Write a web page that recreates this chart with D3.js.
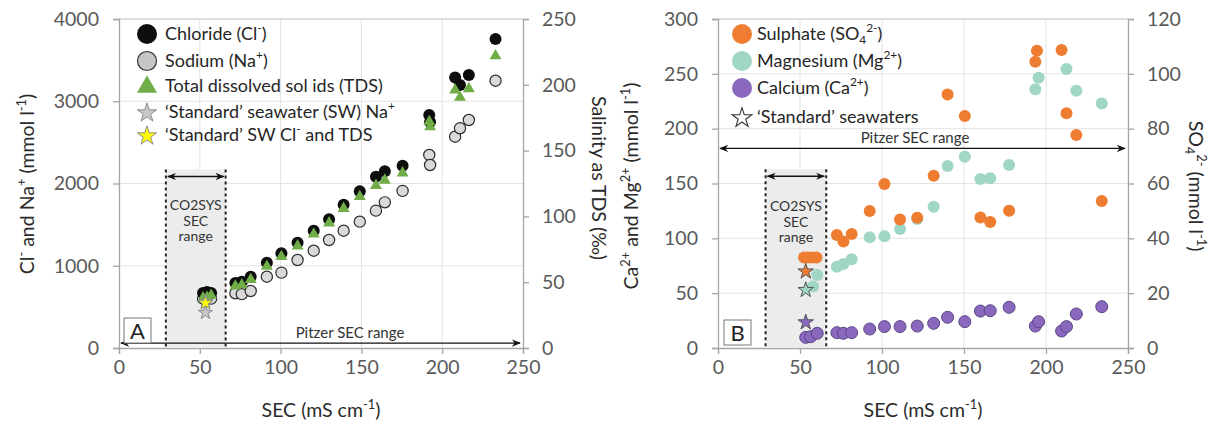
<!DOCTYPE html>
<html>
<head>
<meta charset="utf-8">
<script src="https://cdn.jsdelivr.net/npm/d3@7"></script>
<style>
  body { margin: 0; background: #fff; }
  svg text { font-family: Lato, "Open Sans", sans-serif; }
</style>
</head>
<body>
<div id="chart"></div>
<script>
// ---- panel A : Cl, Na (mmol l-1) and TDS (per mil) against SEC (mS cm-1)
const secA      = [52, 54.5, 57, 72, 76, 81.5, 91.5, 100.5, 110.5, 120.5, 130, 139, 149, 159, 164.5, 175.5, 192, 192.5, 208, 211, 216.5, 233]
const chloride  = [670, 680, 670, 790, 806, 867, 1037, 1151, 1281, 1426, 1564, 1743, 1905, 2083, 2148, 2217, 2833, 2748, 3290, 3197, 3319, 3757]
const sodium    = [600, 610, 600, 665, 655, 693, 867, 916, 1070, 1183, 1313, 1426, 1536, 1670, 1771, 1910, 2347, 2225, 2569, 2671, 2772, 3250]
const tds       = [38, 38.5, 40, 47, 48, 52, 62, 69.5, 77.5, 86.5, 95, 106, 115, 123.5, 127.5, 133, 172, 168, 196, 190.5, 197, 222]
// 'standard' seawater, SEC, Na, Cl (mmol l-1) and TDS (per mil)
const swSecA = 53.5, swNa = 430, swCl = 546, swTds = 35

// ---- panel B : Ca, Mg (mmol l-1, left) and SO4 (mmol l-1, right)
const secSO4    = [52.5, 55, 57.5, 60, 72.5, 76.5, 81.5, 92.5, 101.5, 111, 121.5, 131.5, 140, 150.5, 160, 166, 177.5, 193.5, 194.5, 209.5, 212.5, 218.5, 234]
const sulphate  = [33, 33, 33, 33, 41.2, 38.8, 41.6, 50, 59.8, 46.9, 47.5, 62.8, 92.5, 84.6, 47.6, 46, 50.1, 104.4, 108.4, 108.7, 85.6, 77.7, 53.6]
const secMg     = [58, 60.5, 72.5, 76.5, 81.5, 92.5, 101.5, 111, 121.5, 131.5, 140, 150.5, 160, 166, 177.5, 193.5, 195.5, 212.5, 218.5, 234]
const magnesium = [56, 66.6, 74.1, 76.6, 80.9, 100.9, 102, 108.5, 117.6, 128.9, 166, 174.4, 154, 154.7, 166.9, 236, 246.5, 254.4, 234.6, 223]
const secCa     = [53.5, 56.5, 60.5, 72.5, 76.5, 81.5, 92.5, 101.5, 111, 121.5, 131.5, 140, 150.5, 160, 166, 177.5, 193.5, 195.5, 209.5, 212.5, 218.5, 234]
const calcium   = [9.7, 10.3, 13.4, 14, 13.4, 14, 17.3, 19.5, 19.5, 20, 22.5, 28, 24, 33.7, 34, 37.1, 20, 24, 15.5, 19.5, 31, 37.7]
const swSecB = 53.5, swSO4 = 27.9, swMg = 52.9, swCa = 23.4

// ticks and ranges
const secTicks = [0, 50, 100, 150, 200, 250]
const clTicks  = [0, 1000, 2000, 3000, 4000]
const tdsTicks = [0, 50, 100, 150, 200, 250]
const caTicks  = [0, 50, 100, 150, 200, 250, 300]
const so4Ticks = [0, 20, 40, 60, 80, 100, 120]
const co2sysRange = [29, 66]
const co2sysTopA = 2170, co2sysTopB = 163
const pitzerRange = [0, 250]
const pitzerYA = 60, pitzerYB = 182

const W = 1214, H = 425
const svg = d3.select("#chart").append("svg").attr("width", W).attr("height", H)
svg.append("rect").attr("width", W).attr("height", H).attr("fill", "#fff")

const defs = svg.append("defs")
defs.append("marker").attr("id", "arrow").attr("viewBox", "0 0 10 10")
    .attr("refX", 9).attr("refY", 5).attr("markerWidth", 9).attr("markerHeight", 9)
    .attr("markerUnits", "userSpaceOnUse").attr("orient", "auto-start-reverse")
    .append("path").attr("d", "M0,1 L10,5 L0,9 L3,5 Z").attr("fill", "#111")

// text with sub/superscript parts: [[str], [str, "sup"], [str, "sub"]]
function rich(text, parts, fs) {
    let shift = 0
    parts.forEach(([s, k]) => {
        const target = k === "sup" ? -0.42 * fs : k === "sub" ? 0.22 * fs : 0
        text.append("tspan")
            .attr("dy", target - shift)
            .attr("font-size", k ? fs * 0.66 : fs)
            .text(s)
        shift = target
    })
}

const star = d3.symbol().type(d3.symbolStar)
const tri = d3.symbol().type(d3.symbolTriangle)

function styleAxis(g) {
    g.select(".domain").attr("stroke", "#a6a6a6").attr("stroke-width", 1.3)
    g.selectAll(".tick line").attr("stroke", "#a6a6a6").attr("stroke-width", 1.3)
    g.selectAll(".tick text").attr("fill", "#595959").attr("font-size", 19.5)
}

function frame(p, x, yl, yr, ylTicks, yrTicks) {
    const g = svg.append("g")
    // gridlines
    g.selectAll(".gy").data(ylTicks.slice(1)).join("line")
        .attr("x1", p.x0).attr("x2", p.x1).attr("y1", d => yl(d)).attr("y2", d => yl(d))
        .attr("stroke", d => d === ylTicks[ylTicks.length - 1] ? "#bdbdbd" : "#e3e3e3")
    g.selectAll(".gx").data(secTicks.slice(1, -1)).join("line")
        .attr("x1", d => x(d)).attr("x2", d => x(d)).attr("y1", p.y0).attr("y2", p.y1)
        .attr("stroke", "#e3e3e3")
    const fmt = d3.format("d")
    g.append("g").attr("transform", `translate(0,${p.y0})`)
        .call(d3.axisBottom(x).tickValues(secTicks).tickFormat(fmt).tickSize(6).tickPadding(6)).call(styleAxis)
    g.append("g").attr("transform", `translate(${p.x0},0)`)
        .call(d3.axisLeft(yl).tickValues(ylTicks).tickFormat(fmt).tickSize(6).tickPadding(14)).call(styleAxis)
    g.append("g").attr("transform", `translate(${p.x1},0)`)
        .call(d3.axisRight(yr).tickValues(yrTicks).tickFormat(fmt).tickSize(6).tickPadding(13)).call(styleAxis)
    return g
}

function co2sys(x, y, top, textY) {
    const g = svg.append("g")
    const x0 = x(co2sysRange[0]), x1 = x(co2sysRange[1])
    g.append("rect").attr("x", x0).attr("y", y(top)).attr("width", x1 - x0)
        .attr("height", y(0) - y(top)).attr("fill", "#ececec")
    co2sysRange.forEach(v => g.append("line")
        .attr("x1", x(v)).attr("x2", x(v)).attr("y1", y(top)).attr("y2", y(0))
        .attr("stroke", "#222").attr("stroke-width", 2).attr("stroke-dasharray", "3,3"))
    g.append("line").attr("x1", x0 + 2).attr("x2", x1 - 2)
        .attr("y1", y(top) + 7).attr("y2", y(top) + 7)
        .attr("stroke", "#111").attr("stroke-width", 1.3)
        .attr("marker-start", "url(#arrow)").attr("marker-end", "url(#arrow)")
    ;["CO2SYS", "SEC", "range"].forEach((t, i) => g.append("text")
        .attr("x", (x0 + x1) / 2).attr("y", textY + i * 15.5)
        .attr("text-anchor", "middle").attr("font-size", 14).attr("fill", "#333").text(t))
}

function pitzer(x, y, yv, labelX) {
    svg.append("line").attr("x1", x(pitzerRange[0]) + 2).attr("x2", x(pitzerRange[1]) - 3)
        .attr("y1", y(yv)).attr("y2", y(yv))
        .attr("stroke", "#111").attr("stroke-width", 1.2)
        .attr("marker-start", "url(#arrow)").attr("marker-end", "url(#arrow)")
    svg.append("text").attr("x", labelX).attr("y", y(yv) - 5)
        .attr("text-anchor", "middle").attr("font-size", 15).attr("fill", "#333")
        .text("Pitzer SEC range")
}

function panelLabel(x, y, t) {
    svg.append("rect").attr("x", x).attr("y", y).attr("width", 27).attr("height", 25)
        .attr("fill", "#fff").attr("stroke", "#777").attr("stroke-width", 1)
    svg.append("text").attr("x", x + 13.5).attr("y", y + 21).attr("text-anchor", "middle")
        .attr("font-size", 22).attr("fill", "#222").text(t)
}

function axisTitle(x, y, angle, parts, fs) {
    const t = svg.append("text").attr("transform", `translate(${x},${y}) rotate(${angle})`)
        .attr("text-anchor", "middle").attr("fill", "#2b2b2b")
    rich(t, parts, fs)
}

function legendRow(x, y, tx, draw, parts) {
    draw(x, y)
    const t = svg.append("text").attr("x", tx).attr("y", y + 6).attr("fill", "#262626")
    rich(t, parts, 18)
}

// ================= panel A =================
const pA = { x0: 119, x1: 523, y0: 348, y1: 19 }
const xA = d3.scaleLinear().domain([0, 250]).range([pA.x0, pA.x1])
const yA = d3.scaleLinear().domain([0, 4000]).range([pA.y0, pA.y1])
const yTds = d3.scaleLinear().domain([0, 250]).range([pA.y0, pA.y1])

frame(pA, xA, yA, yTds, clTicks, tdsTicks)
co2sys(xA, yA, co2sysTopA, 210)
pitzer(xA, yA, pitzerYA, 350)
panelLabel(124, 318, "A")

svg.append("g").selectAll("circle").data(secA).join("circle")
    .attr("cx", d => xA(d)).attr("cy", (d, i) => yA(sodium[i])).attr("r", 5.6)
    .attr("fill", "#d9d9d9").attr("stroke", "#2b2b2b").attr("stroke-width", 1.2)
svg.append("g").selectAll("circle").data(secA).join("circle")
    .attr("cx", d => xA(d)).attr("cy", (d, i) => yA(chloride[i])).attr("r", 6)
    .attr("fill", "#0d0d0d")
svg.append("g").selectAll("path").data(secA).join("path")
    .attr("d", tri.size(62)())
    .attr("transform", (d, i) => `translate(${xA(d)},${yTds(tds[i])})`)
    .attr("fill", "#70ad47")
svg.append("path").attr("d", star.size(62)())
    .attr("transform", `translate(${xA(swSecA)},${yA(swNa)})`)
    .attr("fill", "#c8c8c8").attr("stroke", "#8c8c8c")
svg.append("path").attr("d", star.size(62)())
    .attr("transform", `translate(${xA(swSecA)},${yTds(swTds)})`)
    .attr("fill", "#ffff00").attr("stroke", "#8c8c8c")
svg.append("path").attr("d", star.size(62)())
    .attr("transform", `translate(${xA(swSecA)},${yA(swCl)})`)
    .attr("fill", "#ffff00").attr("stroke", "#8c8c8c")

// legend A
const lgA = [34, 61, 86, 112, 135]
legendRow(147, lgA[0], 165, (x, y) => svg.append("circle").attr("cx", x).attr("cy", y).attr("r", 10).attr("fill", "#0d0d0d"),
    [["Chloride (Cl"], ["-", "sup"], [")"]])
legendRow(147, lgA[1], 165, (x, y) => svg.append("circle").attr("cx", x).attr("cy", y).attr("r", 9.5)
    .attr("fill", "#c6c6c6").attr("stroke", "#333").attr("stroke-width", 1.2),
    [["Sodium (Na"], ["+", "sup"], [")"]])
legendRow(147, lgA[2], 165, (x, y) => svg.append("path").attr("d", tri.size(175)())
    .attr("transform", `translate(${x},${y + 1})`).attr("fill", "#70ad47"),
    [["Total dissolved sol ids (TDS)"]])
legendRow(147, lgA[3], 165, (x, y) => svg.append("path").attr("d", star.size(115)())
    .attr("transform", `translate(${x},${y + 1})`).attr("fill", "#c8c8c8").attr("stroke", "#8c8c8c"),
    [["\u2018Standard\u2019 seawater (SW) Na"], ["+", "sup"]])
legendRow(147, lgA[4], 165, (x, y) => svg.append("path").attr("d", star.size(115)())
    .attr("transform", `translate(${x},${y + 1})`).attr("fill", "#ffff00").attr("stroke", "#8c8c8c"),
    [["\u2018Standard\u2019 SW Cl"], ["-", "sup"], [" and TDS"]])

axisTitle(34, 184, -90, [["Cl"], ["-", "sup"], [" and Na"], ["+", "sup"], [" (mmol l"], ["-1", "sup"], [")"]], 19.5)
axisTitle(592, 178, 90, [["Salinity as TDS (\u2030)"]], 19.5)
axisTitle(321, 417, 0, [["SEC (mS cm"], ["-1", "sup"], [")"]], 19.5)

// ================= panel B =================
const pB = { x0: 718, x1: 1128, y0: 348, y1: 19 }
const xB = d3.scaleLinear().domain([0, 250]).range([pB.x0, pB.x1])
const yB = d3.scaleLinear().domain([0, 300]).range([pB.y0, pB.y1])
const ySO4 = d3.scaleLinear().domain([0, 120]).range([pB.y0, pB.y1])

frame(pB, xB, yB, ySO4, caTicks, so4Ticks)
co2sys(xB, yB, co2sysTopB, 211)
pitzer(xB, yB, pitzerYB, 915)
panelLabel(724, 320, "B")

const cMg = "#9fd6c6", cSO4 = "#ee7d31", cCa = "#8a68bd"
svg.append("g").selectAll("circle").data(secMg).join("circle")
    .attr("cx", d => xB(d)).attr("cy", (d, i) => yB(magnesium[i])).attr("r", 6)
    .attr("fill", cMg)
svg.append("g").selectAll("circle").data(secSO4).join("circle")
    .attr("cx", d => xB(d)).attr("cy", (d, i) => ySO4(sulphate[i])).attr("r", 6)
    .attr("fill", cSO4)
svg.append("g").selectAll("circle").data(secCa).join("circle")
    .attr("cx", d => xB(d)).attr("cy", (d, i) => yB(calcium[i])).attr("r", 6)
    .attr("fill", cCa).attr("stroke", "#5b4785").attr("stroke-width", 1)
;[[ySO4(swSO4), cSO4], [yB(swMg), cMg], [yB(swCa), cCa]].forEach(([cy, c]) =>
    svg.append("path").attr("d", star.size(75)())
        .attr("transform", `translate(${xB(swSecB)},${cy})`)
        .attr("fill", c).attr("stroke", "#555").attr("stroke-width", 1))

// legend B
const lgB = [34, 61, 88, 117]
legendRow(742, lgB[0], 757, (x, y) => svg.append("circle").attr("cx", x).attr("cy", y).attr("r", 10).attr("fill", cSO4),
    [["Sulphate (SO"], ["4", "sub"], ["2-", "sup"], [")"]])
legendRow(742, lgB[1], 757, (x, y) => svg.append("circle").attr("cx", x).attr("cy", y).attr("r", 10).attr("fill", cMg),
    [["Magnesium (Mg"], ["2+", "sup"], [")"]])
legendRow(742, lgB[2], 757, (x, y) => svg.append("circle").attr("cx", x).attr("cy", y).attr("r", 10).attr("fill", cCa),
    [["Calcium (Ca"], ["2+", "sup"], [")"]])
legendRow(742, lgB[3], 757, (x, y) => svg.append("path").attr("d", star.size(120)())
    .attr("transform", `translate(${x},${y + 1})`).attr("fill", "#fff").attr("stroke", "#333").attr("stroke-width", 1.1),
    [["\u2018Standard\u2019 seawaters"]])

axisTitle(638, 186, -90, [["Ca"], ["2+", "sup"], [" and Mg"], ["2+", "sup"], [" (mmol l"], ["-1", "sup"], [")"]], 19.5)
axisTitle(1189, 186, 90, [["SO"], ["4", "sub"], ["2-", "sup"], ["  (mmol l"], ["-1", "sup"], [")"]], 19.5)
axisTitle(923, 417, 0, [["SEC (mS cm"], ["-1", "sup"], [")"]], 19.5)
</script>
</body>
</html>
